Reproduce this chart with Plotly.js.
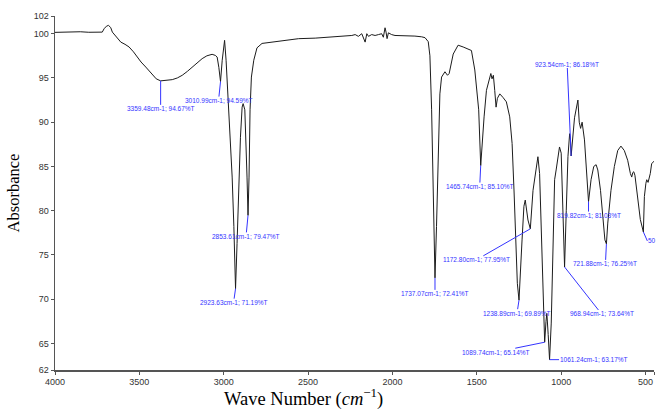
<!DOCTYPE html>
<html>
<head>
<meta charset="utf-8">
<script src="https://cdn.plot.ly/plotly-3.0.1.min.js"></script>
<style>html,body{margin:0;padding:0;background:#fff;}#chart{width:657px;height:414px;}</style>
</head>
<body>
<div id="chart"></div>
<script>
// Wave number (cm-1)
const waveNumber = [4000, 3950, 3900, 3850, 3800, 3760, 3720, 3709, 3695, 3683, 3670, 3660, 3645, 3630, 3610, 3585, 3561, 3535, 3512, 3490, 3462, 3440, 3423, 3400, 3374, 3340, 3305, 3275, 3246, 3215, 3187, 3158, 3128, 3100, 3069, 3050, 3039, 3029, 3019, 3009, 2995, 2986, 2974, 2960, 2950, 2940, 2930, 2921, 2911, 2901, 2891, 2885, 2875, 2867, 2862, 2856, 2850, 2844, 2836, 2822, 2803, 2773, 2733, 2694, 2655, 2556, 2458, 2360, 2280, 2241, 2221, 2202, 2182, 2172, 2162, 2152, 2142, 2123, 2103, 2083, 2064, 2054, 2044, 2038, 2032, 2024, 2005, 1985, 1946, 1906, 1867, 1827, 1807, 1788, 1778, 1768, 1758, 1748, 1739, 1733, 1725, 1719, 1709, 1689, 1674, 1664, 1640, 1611, 1581, 1532, 1512, 1499, 1489, 1477, 1469, 1457, 1443, 1429, 1417, 1410, 1402, 1394, 1386, 1378, 1364, 1345, 1325, 1305, 1291, 1279, 1269, 1260, 1250, 1241, 1232, 1221, 1213, 1197, 1183, 1167, 1154, 1138, 1128, 1118, 1112, 1104, 1098, 1090, 1085, 1077, 1069, 1059, 1049, 1039, 1030, 1020, 1010, 1000, 990, 984, 980, 970, 960, 950, 945, 941, 931, 921, 901, 893, 885, 876, 862, 852, 838, 823, 807, 793, 783, 767, 752, 741, 732, 724, 705, 685, 665, 646, 626, 606, 590, 582, 576, 570, 563, 551, 540, 531, 513, 507, 498, 493, 485, 478, 472, 464, 450];
// Transmittance (%T)
const transmittance = [100.15, 100.2, 100.18, 100.22, 100.16, 100.2, 100.18, 100.56, 100.85, 100.94, 100.7, 100.18, 99.8, 99.44, 99.05, 98.8, 98.5, 97.95, 97.36, 96.8, 96.23, 95.75, 95.3, 94.9, 94.67, 94.7, 94.81, 95.0, 95.3, 95.75, 96.23, 96.75, 97.18, 97.5, 97.67, 97.55, 97.36, 96.2, 94.59, 97.0, 99.25, 97.0, 92.5, 88.0, 83.8, 78.2, 71.19, 76.3, 83.8, 88.3, 91.7, 92.1, 91.4, 87.6, 83.8, 79.47, 83.8, 91.4, 95.1, 97.0, 98.4, 98.9, 99.0, 99.05, 99.17, 99.44, 99.5, 99.6, 99.7, 99.8, 99.9, 99.7, 100.0, 99.44, 99.05, 100.0, 99.7, 99.9, 99.8, 99.9, 100.0, 99.6, 100.67, 100.18, 99.44, 100.1, 99.9, 99.8, 99.8, 99.8, 99.73, 99.65, 99.55, 99.1, 97.5, 91.4, 82.0, 72.41, 78.2, 83.8, 89.5, 93.2, 95.1, 95.7, 95.3, 95.5, 97.7, 98.7, 98.5, 98.1, 95.9, 92.9, 91.4, 85.10, 87.6, 90.6, 93.6, 94.5, 95.5, 94.9, 95.3, 93.6, 91.7, 92.7, 93.2, 92.8, 92.3, 90.6, 87.6, 82.0, 76.3, 71.8, 69.89, 74.0, 76.7, 80.5, 81.2, 78.95, 77.95, 82.3, 84.2, 86.1, 84.2, 78.6, 72.9, 68.4, 65.14, 67.5, 68.4, 66.0, 63.17, 67.3, 76.7, 83.5, 84.6, 86.1, 87.2, 86.5, 80.5, 76.7, 73.64, 80.0, 86.1, 88.7, 88.0, 86.18, 88.5, 90.5, 92.5, 90.0, 89.3, 90.0, 88.0, 85.0, 81.03, 83.5, 85.0, 85.2, 84.6, 82.3, 79.3, 76.7, 76.25, 78.6, 82.3, 85.0, 86.8, 87.3, 86.8, 85.7, 84.2, 83.8, 84.3, 84.4, 84.0, 82.0, 80.5, 79.0, 77.6, 81.6, 83.1, 83.5, 83.2, 83.6, 84.2, 85.3, 85.6];

// Peak labels (text as printed) and where their leaders point on the curve
const peakText = ['3359.48cm-1; 94.67%T', '3010.99cm-1; 94.59%T', '2923.63cm-1; 71.19%T', '2853.61cm-1; 79.47%T', '1737.07cm-1; 72.41%T', '1465.74cm-1; 85.10%T', '1172.80cm-1; 77.95%T', '1238.89cm-1; 69.89%T', '1089.74cm-1; 65.14%T', '1061.24cm-1; 63.17%T', '968.94cm-1; 73.64%T', '923.54cm-1; 86.18%T', '819.82cm-1; 81.03%T', '721.88cm-1; 76.25%T', '50'];
const peakX = [3374, 3019, 2930, 2856, 1748, 1477, 1183, 1250, 1098, 1069, 980, 941, 838, 732, 513];
const peakY = [94.67, 94.59, 71.19, 79.47, 72.41, 85.10, 77.95, 69.89, 65.14, 63.17, 73.64, 86.18, 81.03, 76.25, 77.6];

const xTickVals = [4000, 3500, 3000, 2500, 2000, 1500, 1000, 500, 450];
const xTickText = ['4000', '3500', '3000', '2500', '2000', '1500', '1000', '500', '45'];
const yTickVals = [62, 65, 70, 75, 80, 85, 90, 95, 100, 102];

// label offsets (pixels) from the pointed peak to the text centre
const offsets = [[0, 28], [-2, 19], [-2, 14], [-2, 21], [0, 16], [-1, 21], [-54, 31], [-2, 13], [-49, 10], [44, 0], [37, 47], [-4, -92], [0, 14], [-1, 20], [4, 9]];

const blue = '#3434ff';
const annotations = peakText.map((t, i) => ({
  x: peakX[i], y: peakY[i], xref: 'x', yref: 'y',
  text: t, showarrow: true, arrowhead: 0, arrowwidth: 1, arrowcolor: blue,
  ax: offsets[i][0], ay: offsets[i][1], axref: 'pixel', ayref: 'pixel', standoff: 0,
  xanchor: i === 14 ? 'left' : 'center',
  font: {family: 'Liberation Sans, Arial, sans-serif', size: 6.5, color: blue},
  borderpad: 0
}));

annotations.push({
  xref: 'paper', yref: 'paper', x: 0.415, y: -0.078, xanchor: 'center', yanchor: 'middle',
  text: 'Wave Number (<i>cm</i><sup>−1</sup>)', showarrow: false,
  font: {family: 'Liberation Serif, Times New Roman, serif', size: 18.5, color: '#000'}
});

const trace = {
  x: waveNumber, y: transmittance, type: 'scatter', mode: 'lines',
  line: {color: '#1c1c1c', width: 1}, hoverinfo: 'skip'
};

const layout = {
  width: 657, height: 414,
  margin: {l: 55, r: 3, t: 16, b: 44},
  paper_bgcolor: '#fff', plot_bgcolor: '#fff',
  showlegend: false,
  xaxis: {
    range: [4000, 450], autorange: false,
    tickvals: xTickVals, ticktext: xTickText, tickangle: 0,
    ticks: 'outside', ticklen: 3, tickcolor: '#555', tickwidth: 1,
    showline: true, linecolor: '#555', linewidth: 1.5,
    showgrid: false, zeroline: false,
    tickfont: {family: 'Liberation Sans, Arial, sans-serif', size: 9, color: '#333'}
  },
  yaxis: {
    range: [62, 102], autorange: false,
    tickvals: yTickVals,
    ticks: 'outside', ticklen: 3, tickcolor: '#555', tickwidth: 1,
    showline: true, linecolor: '#555', linewidth: 1.5,
    showgrid: false, zeroline: false,
    tickfont: {family: 'Liberation Sans, Arial, sans-serif', size: 9, color: '#333'},
    title: {text: 'Absorbance', standoff: 10, font: {family: 'Liberation Serif, Times New Roman, serif', size: 16.5, color: '#000'}}
  },
  annotations: annotations
};

Plotly.newPlot('chart', [trace], layout, {staticPlot: true, displayModeBar: false});
</script>
</body>
</html>
